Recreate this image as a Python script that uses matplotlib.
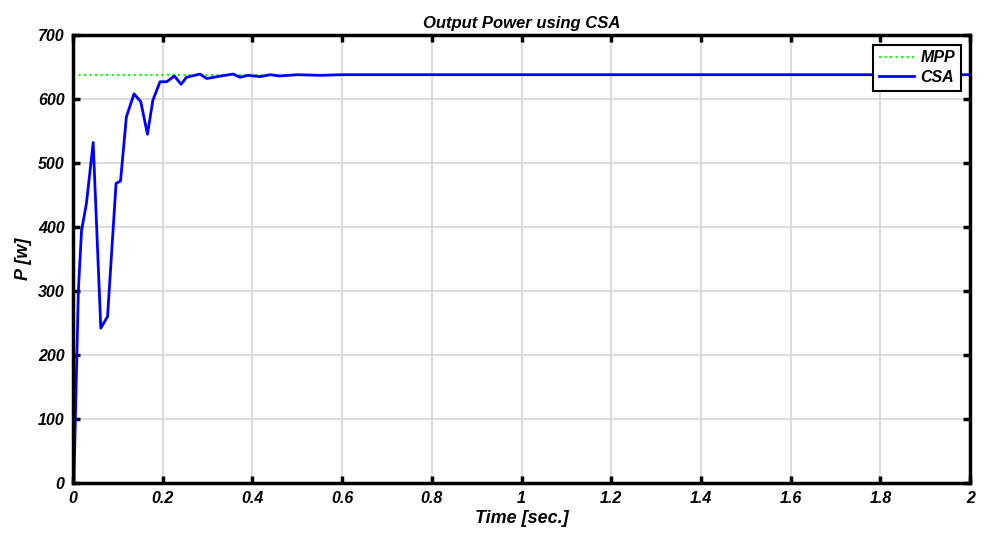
import numpy as np
import matplotlib.pyplot as plt

plt.rcParams['font.family'] = ['Liberation Sans', 'DejaVu Sans']
plt.rcParams['font.weight'] = 'bold'
plt.rcParams['font.style'] = 'italic'
plt.rcParams['axes.labelweight'] = 'bold'
plt.rcParams['axes.titleweight'] = 'bold'

# CSA output power
t_csa = [0.0, 0.002, 0.012, 0.019, 0.030, 0.045, 0.062, 0.077, 0.096, 0.106,
         0.119, 0.136, 0.151, 0.166, 0.178, 0.194, 0.209, 0.226, 0.241, 0.253,
         0.283, 0.298, 0.33, 0.357, 0.372, 0.39, 0.417, 0.44, 0.46, 0.5,
         0.55, 0.6, 1.0, 1.5, 2.0]
p_csa = [0, 0, 301, 394, 437, 532, 242, 260, 468, 472,
         572, 608, 596, 545, 598, 627, 627, 636, 623, 634,
         639, 632, 636, 639, 634, 637, 635, 638, 636, 638,
         637, 638, 638, 638, 638]
t_mpp = [0.0, 2.0]
p_mpp = [638, 638]

fig = plt.figure(figsize=(9.89, 5.43), dpi=100)
ax = fig.add_axes([0.0738, 0.1105, 0.9072, 0.825])

ax.plot(t_mpp, p_mpp, ':', color='#00ff00', lw=1.5, label='MPP')
ax.plot(t_csa, p_csa, '-', color='#0000ff', lw=2, label='CSA')

ax.set_xlim(0, 2)
ax.set_ylim(0, 700)
ax.set_xticks(np.arange(0, 2.01, 0.2))
ax.set_xticklabels(['0', '0.2', '0.4', '0.6', '0.8', '1', '1.2', '1.4', '1.6', '1.8', '2'])
ax.set_yticks(range(0, 701, 100))
ax.grid(True, color='#dcdcdc', lw=1.5)
ax.tick_params(direction='in', length=5, width=2.5, top=True, right=True,
               labelsize=11.5, pad=6)
for s in ax.spines.values():
    s.set_linewidth(2.5)

ax.set_title('Output Power using CSA', fontsize=12, pad=5)
ax.set_xlabel('Time [sec.]', fontsize=13, labelpad=3)
ax.set_ylabel('P [w]', fontsize=13, labelpad=4)

leg = ax.legend(loc='upper right', fontsize=11.5, fancybox=False, framealpha=1,
                edgecolor='black', handlelength=2.2, borderaxespad=0.6,
                handletextpad=0.4, borderpad=0.35, labelspacing=0.3)
leg.get_frame().set_linewidth(1.5)

fig.savefig('out.png', dpi=100)
